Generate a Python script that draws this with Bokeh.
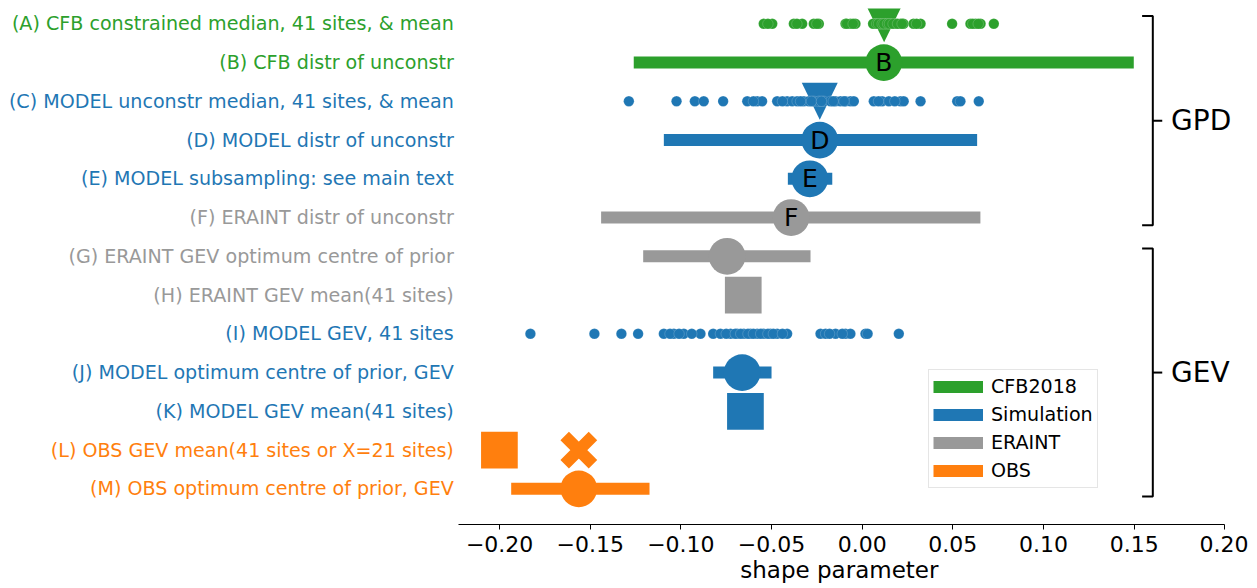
from bokeh.plotting import figure
from bokeh.models import (Range1d, FixedTicker, CustomJSTickFormatter, Legend,
                          LegendItem, Title, ColumnDataSource)
from bokeh.core.properties import value
from bokeh.embed import file_html
from bokeh.resources import INLINE

# ---------------- data ----------------
row_codes = list("ABCDEFGHIJKLM")
row_labels = [
    "(A) CFB constrained median, 41 sites, & mean",
    "(B) CFB distr of unconstr",
    "(C) MODEL unconstr median, 41 sites, & mean",
    "(D) MODEL distr of unconstr",
    "(E) MODEL subsampling: see main text",
    "(F) ERAINT distr of unconstr",
    "(G) ERAINT GEV optimum centre of prior",
    "(H) ERAINT GEV mean(41 sites)",
    "(I) MODEL GEV, 41 sites",
    "(J) MODEL optimum centre of prior, GEV",
    "(K) MODEL GEV mean(41 sites)",
    "(L) OBS GEV mean(41 sites or X=21 sites)",
    "(M) OBS optimum centre of prior, GEV",
]
row_groups = ["CFB2018", "CFB2018", "Simulation", "Simulation", "Simulation",
              "ERAINT", "ERAINT", "ERAINT", "Simulation", "Simulation",
              "Simulation", "OBS", "OBS"]
groups = ["CFB2018", "Simulation", "ERAINT", "OBS"]
group_colors = ["#2ca02c", "#1f77b4", "#999999", "#ff7f0e"]

A_sites = [-0.0543, -0.0496, -0.0377, -0.0331, -0.0267, -0.0239, -0.0092, -0.0065,
           -0.0037, 0.0073, 0.0101, 0.0129, 0.0156, 0.0184, 0.0211, 0.0228, 0.0283,
           0.0322, 0.0496, 0.0597, 0.0625, 0.0653, 0.0726, -0.0520, -0.0360, -0.0250,
           -0.0085, -0.0050, 0.0060, 0.0080, 0.0090, 0.0110, 0.0120, 0.0140, 0.0150,
           0.0170, 0.0195, 0.0220, 0.0300, 0.0610, 0.0640]
A_mean = 0.0121

C_sites = [-0.1287, -0.1024, -0.0923, -0.0874, -0.0767, -0.0634, -0.0579, -0.0552,
           -0.0469, -0.0414, -0.0386, -0.0359, -0.0322, -0.0295, -0.0267, -0.0239,
           -0.0212, -0.0175, -0.0147, -0.0120, -0.0092, -0.0065, -0.0046, 0.0064,
           0.0110, 0.0147, 0.0211, 0.0229, 0.0322, 0.0524, 0.0542, 0.0643, -0.0600,
           -0.0440, -0.0340, -0.0280, -0.0225, -0.0160, -0.0100, 0.0090, 0.0180]
C_mean = -0.0234

I_sites = [-0.1830, -0.1477, -0.1328, -0.1236, -0.1094, -0.1039, -0.0984, -0.0892,
           -0.0822, -0.0782, -0.0726, -0.0689, -0.0653, -0.0616, -0.0579, -0.0543,
           -0.0506, -0.0469, -0.0414, -0.0230, -0.0202, -0.0147, -0.0092, -0.0065,
           0.0018, 0.0202, -0.1060, -0.1010, -0.0940, -0.0750, -0.0700, -0.0670,
           -0.0630, -0.0600, -0.0560, -0.0520, -0.0490, -0.0440, -0.0180, -0.0110,
           0.0030]

range_rows = ["B", "D", "E", "F", "G", "J", "M"]
range_low = [-0.1260, -0.1094, -0.0410, -0.1440, -0.1208, -0.0822, -0.1936]
range_centre = [0.0119, -0.0234, -0.0289, -0.0392, -0.0745, -0.0662, -0.1563]
range_high = [0.1498, 0.0634, -0.0165, 0.0652, -0.0285, -0.0500, -0.1173]
range_letters = ["B", "D", "E", "F", "", "", ""]

square_rows = ["H", "K", "L"]
square_vals = [-0.0656, -0.0644, -0.2001]
cross_rows = ["L"]
cross_vals = [-0.1563]

bracket_names = ["GPD", "GEV"]
bracket_first = ["A", "G"]
bracket_last = ["F", "M"]

x_ticks = [-0.20, -0.15, -0.10, -0.05, 0.00, 0.05, 0.10, 0.15, 0.20]
x_axis_lo, x_axis_hi = -0.2225, 0.20
x_title = "shape parameter"

# ---------------- layout ----------------
PX_X = 1813.0   # pixels per x unit
PX_Y = 38.75    # pixels per row
LEFT, TOP, BOTTOM = 8, 8, 64
W, H = 1248, 588
FRAME_W = W - LEFT
FRAME_H = H - TOP - BOTTOM
x0 = -0.47087
x1 = x0 + FRAME_W / PX_X
y0 = -0.921
y1 = y0 + FRAME_H / PX_Y

ypos = {c: len(row_codes) - 1 - i for i, c in enumerate(row_codes)}
gcol = dict(zip(groups, group_colors))
rcol = {c: gcol[g] for c, g in zip(row_codes, row_groups)}

p = figure(width=W, height=H, output_backend="svg",
           toolbar_location=None, x_range=Range1d(x0, x1), y_range=Range1d(y0, y1),
           y_axis_location=None, min_border_left=LEFT, min_border_right=0,
           min_border_top=TOP, min_border_bottom=BOTTOM)
p.xgrid.visible = False
p.ygrid.visible = False
p.outline_line_color = None
p.background_fill_color = "white"
p.border_fill_color = "white"

ax = p.xaxis[0]
ax.bounds = (x_axis_lo, x_axis_hi)
ax.ticker = FixedTicker(ticks=x_ticks, minor_ticks=[])
ax.formatter = CustomJSTickFormatter(
    code="return (tick < -1e-9 ? '\u2212' : '') + Math.abs(tick).toFixed(2);")
ax.major_label_text_font = "DejaVu Sans"
ax.major_label_text_font_size = "22px"
ax.major_label_text_color = "black"
ax.major_tick_in = 0
ax.major_tick_out = 5
ax.major_tick_line_color = "black"
ax.axis_line_color = "black"
ax.axis_line_width = 1.1
ax.major_label_standoff = 6

FONT = value("DejaVu Sans")

# triangles (means) for A and C
tri_hw = 18.0 / PX_X
tri_hh = 18.5 / PX_Y
for code, m in (("A", A_mean), ("C", C_mean)):
    y = ypos[code]
    p.patch(x=[m - tri_hw, m + tri_hw, m], y=[y + tri_hh, y + tri_hh, y - tri_hh],
            fill_color=rcol[code], line_color=None)

# site dots
for code, sites in (("A", A_sites), ("C", C_sites), ("I", I_sites)):
    p.scatter(x=sites, y=[ypos[code]] * len(sites), size=10.5,
              fill_color=rcol[code], line_color="white", line_width=0.3, line_alpha=0.6)

# ranges (thick bars) per group
legend_items = []
for g, col in zip(groups, group_colors):
    idx = [i for i, r in enumerate(range_rows) if row_groups[row_codes.index(r)] == g]
    src = ColumnDataSource(dict(
        xa=[range_low[i] for i in idx], xb=[range_high[i] for i in idx],
        y=[ypos[range_rows[i]] for i in idx]))
    r = p.segment(x0="xa", y0="y", x1="xb", y1="y", line_width=12,
                  line_color=col, line_cap="butt", source=src)
    legend_items.append(LegendItem(label=g, renderers=[r]))

# centre circles
p.scatter(x=range_centre, y=[ypos[r] for r in range_rows], size=36.7,
          fill_color=[rcol[r] for r in range_rows], line_color=None)
p.text(x=range_centre, y=[ypos[r] for r in range_rows], text=range_letters,
       text_font=FONT, text_font_size="25px", text_color="black",
       text_align="center", text_baseline="middle")

# squares
p.scatter(x=square_vals, y=[ypos[r] for r in square_rows], marker="square", size=36.7,
          fill_color=[rcol[r] for r in square_rows], line_color=None)
# crosses
p.scatter(x=cross_vals, y=[ypos[r] for r in cross_rows], marker="x", size=40,
          line_color=[rcol[r] for r in cross_rows], line_width=12)

# row labels
label_x = x_axis_lo - 5.0 / PX_X
p.text(x=[label_x] * len(row_codes), y=[ypos[c] for c in row_codes], text=row_labels,
       text_color=[rcol[c] for c in row_codes], text_font=FONT, text_font_size="19.1px",
       text_align="right", text_baseline="middle")

# brackets
bx = 0.1603
b_tick_l = 0.1544
b_tick_r = 0.1655
b_text = 0.1704
pad = 0.2
for name, f, l in zip(bracket_names, bracket_first, bracket_last):
    top = ypos[f] + pad
    bot = ypos[l] - pad
    mid = (ypos[f] + ypos[l]) / 2
    p.multi_line(xs=[[b_tick_l, bx, bx, b_tick_l], [bx, b_tick_r]],
                 ys=[[top, top, bot, bot], [mid, mid]], line_color="black", line_width=2)
    p.text(x=[b_text], y=[mid], text=[name], text_font=FONT, text_font_size="28px",
           text_color="black", text_align="left", text_baseline="middle")

legend = Legend(items=legend_items, location=(920, 36), orientation="vertical",
                label_text_font="DejaVu Sans", label_text_font_size="19.1px",
                label_text_color="black",
                glyph_width=50, glyph_height=25, label_height=25, spacing=3,
                padding=4, label_standoff=8, margin=0,
                border_line_color="#cccccc", border_line_width=1,
                background_fill_alpha=0.8)
p.add_layout(legend)

# axis title: left-aligned title shifted so it is centred under the axis line
title_width_px = 197
axis_centre_px = ((x_axis_lo + x_axis_hi) / 2 - x0) * PX_X
p.add_layout(Title(text=x_title, align="left",
                   offset=axis_centre_px - title_width_px / 2 - 3,
                   text_font="DejaVu Sans", text_font_size="23px",
                   text_font_style="normal", text_color="black", standoff=0), "below")

open("out.html", "w").write(file_html(p, INLINE))
